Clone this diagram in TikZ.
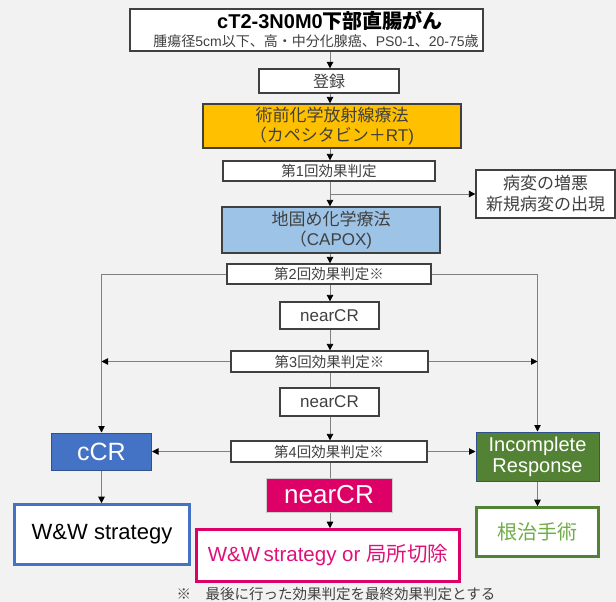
\documentclass[tikz,border=0pt]{standalone}
\usepackage{fontspec}
\setmainfont{Liberation Sans}
\newfontfamily\jp{Noto Sans CJK JP}
\usetikzlibrary{arrows.meta}
\newcommand\J[1]{{\jp #1}}
\newcommand\fs[2]{\fontsize{#1}{#2}\selectfont}

\definecolor{bg}{HTML}{F2F2F2}
\definecolor{boxline}{HTML}{404040}
\definecolor{txt}{HTML}{404040}
\definecolor{conn}{HTML}{808080}
\definecolor{orangefill}{HTML}{FFC000}
\definecolor{bluefill}{HTML}{9DC3E6}
\definecolor{ccrblue}{HTML}{4472C4}
\definecolor{ccrline}{HTML}{2F528F}
\definecolor{irgreen}{HTML}{548235}
\definecolor{lightgreen}{HTML}{70AD47}
\definecolor{pink}{HTML}{DD0066}
\definecolor{pinktext}{HTML}{E0107A}

\tikzset{
  box/.style={draw=boxline, line width=1.3pt, fill=white, text=txt,
    inner sep=0pt, align=center, font=\fs{14.5}{17}},
  link/.style={draw=conn, line width=0.8pt},
  arr/.style={link, -{Triangle[width=6.5pt,length=6.5pt,color=black]}},
}

\begin{document}
\begin{tikzpicture}[x=1pt,y=-1pt]
\fill[bg] (0,0) rectangle (616,602);
\useasboundingbox (0,0) rectangle (616,602);

\coordinate (trunk) at (330,0);

% header box with title and eligibility line
\node[box, minimum width=353pt, minimum height=42pt] (top) at (306.5,30) {};
\node[inner sep=0pt, text=black, font=\fs{20}{22}\bfseries] (ttl) at (330,20.5)
  {cT2-3N0M0\J{下部直腸がん}};
\node[inner sep=0pt, text=txt, font=\fs{14}{16}] (sub) at (316,41)
  {\J{腫瘍径}5cm\J{以下、高・中分化腺癌、}PS0-1\J{、}20-75\J{歳}};

\node[box, minimum width=140pt, minimum height=24pt, font=\fs{16}{18}] (reg) at (329,81) {\J{登録}};
\node[box, fill=orangefill, minimum width=258pt, minimum height=44pt, font=\fs{17}{20}] (crt) at (332,126)
  {\J{術前化学放射線療法}\\\J{（カペシタビン＋}RT)};
\node[box, minimum width=212pt, minimum height=20pt] (e1) at (329,171) {\J{第}1\J{回効果判定}};
\node[box, minimum width=139pt, minimum height=48pt, font=\fs{17}{21}] (prog) at (545.5,194)
  {\J{病変の増悪}\\\J{新規病変の出現}};
\node[box, fill=bluefill, minimum width=218pt, minimum height=46pt, font=\fs{17}{20}] (capox) at (331,230)
  {\J{地固め化学療法}\\\J{（}CAPOX)};
\node[box, minimum width=204pt, minimum height=20pt] (e2) at (329,274) {\J{第}2\J{回効果判定※}};
\node[box, minimum width=99pt, minimum height=27pt, font=\fs{17}{20}] (n1) at (329.5,315.5) {nearCR};
\node[box, minimum width=197pt, minimum height=21pt] (e3) at (329.5,361.5) {\J{第}3\J{回効果判定※}};
\node[box, minimum width=99pt, minimum height=28pt, font=\fs{17}{20}] (n2) at (329.5,402) {nearCR};
\node[box, minimum width=196pt, minimum height=21pt] (e4) at (329,451.5) {\J{第}4\J{回効果判定※}};

% outcome boxes
\node[box, draw=ccrline, fill=ccrblue, text=white, line width=1pt,
  minimum width=100pt, minimum height=37pt, font=\fs{25}{27}] (ccr) at (101.5,451.5) {cCR};
\node[box, draw=ccrline, fill=irgreen, text=white, line width=1pt,
  minimum width=123pt, minimum height=49pt, font=\fs{20}{21}] (ir) at (537.5,456.5) {Incomplete\\Response};
\node[box, draw=black!20, fill=pink, text=white, line width=1pt,
  minimum width=126pt, minimum height=34pt, font=\fs{26}{28}] (n3) at (329,495) {nearCR};

\node[box, draw=ccrblue, line width=2.6pt, text=black,
  minimum width=175pt, minimum height=60pt, font=\fs{22}{24}] (ww) at (102,534.5) {W\&W strategy};
\node[box, draw=pink, line width=2.6pt, text=pinktext,
  minimum width=263pt, minimum height=52pt, font=\fs{20.5}{22}] (wwl) at (328,555.5)
  {W\&W\,strategy or \J{局所切除}};
\node[box, draw=irgreen, line width=2.6pt, text=lightgreen,
  minimum width=122pt, minimum height=49pt, font=\fs{20}{22}] (surg) at (537.5,532) {\J{根治手術}};

\node[inner sep=0pt, text=txt, font=\fs{14.5}{16}] (foot) at (336,594)
  {\J{※　最後に行った効果判定を最終効果判定とする}};

% main trunk
\draw[arr] (top.south -| trunk) -- (reg.north -| trunk);
\draw[arr] (reg.south -| trunk) -- (crt.north -| trunk);
\draw[arr] (crt.south -| trunk) -- (e1.north -| trunk);
\draw[arr] (e1.south -| trunk) -- (capox.north -| trunk);
\coordinate (br) at (330,194);
\draw[arr] (br) -- (prog.west);
\draw[arr] (capox.south -| trunk) -- (e2.north -| trunk);
\draw[arr] (e2.south -| trunk) -- (n1.north -| trunk);
\draw[arr] (n1.south -| trunk) -- (e3.north -| trunk);
\draw[link] (e3.south -| trunk) -- (n2.north -| trunk);
\draw[arr] (n2.south -| trunk) -- (e4.north -| trunk);
\draw[link] (e4.south -| trunk) -- (n3.north -| trunk);
\draw[arr] (n3.south -| trunk) -- (wwl.north -| trunk);

% side branches
\draw[arr] (e2.west) -| (ccr.north);
\draw[arr] (e2.east) -| (ir.north);
\draw[arr] (e3.west) -- (e3.west -| ccr.north);
\draw[arr] (e3.east) -- (e3.east -| ir.north);
\draw[arr] (e4.west) -- (e4.west -| ccr.east);
\draw[arr] (e4.east) -- (e4.east -| ir.west);
\draw[arr] (ccr.south) -- (ww.north -| ccr.south);
\draw[arr] (ir.south) -- (surg.north -| ir.south);
\end{tikzpicture}
\end{document}
